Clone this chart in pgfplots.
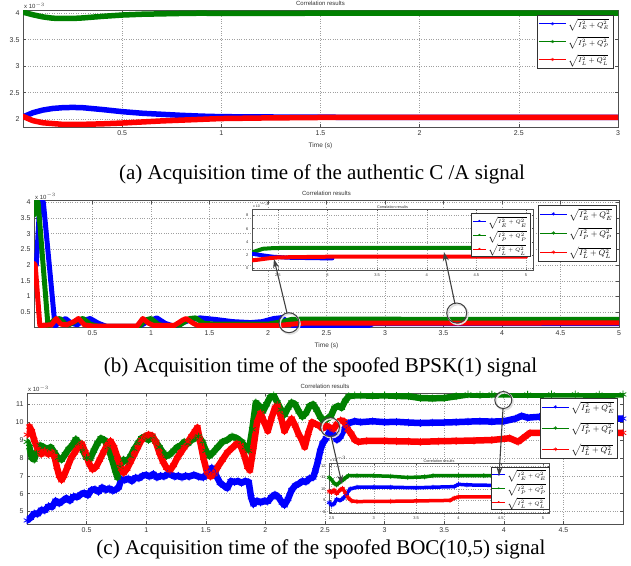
\documentclass[border=0pt]{standalone}
\usepackage{pgfplots}
\pgfplotsset{compat=1.18}
\usepackage{fontspec}
\setmainfont{Liberation Serif}
\setsansfont{Liberation Sans}
\usetikzlibrary{arrows.meta}

\definecolor{mblue}{RGB}{0,0,255}
\definecolor{mgreen}{RGB}{0,128,0}
\definecolor{mred}{RGB}{255,0,0}
\definecolor{frame}{RGB}{80,80,80}

\pgfplotsset{
  mlab/.style={
    scale only axis,
    axis line style={frame, line width=0.5pt},
    grid=major,
    major grid style={dotted, gray!75, line width=0.5pt},
    tick align=inside,
    major tick length=3pt,
    every tick/.style={frame, line width=0.45pt},
    tick label style={font=\sffamily\fontsize{7}{8}\selectfont, text=black!80},
    /pgf/number format/assume math mode=true,
    title style={font=\sffamily\fontsize{6}{7}\selectfont, text=black!80, inner sep=1.5pt, yshift=-3pt},
    label style={font=\sffamily\fontsize{6.5}{7}\selectfont, text=black!80},
    legend cell align=left,
    legend image code/.code={
      \draw[##1] (0pt,0pt) -- (27pt,0pt);
      \draw[##1] plot coordinates {(13.5pt,0pt)};
    },
  },
  inset/.style={
    mlab,
    axis background/.style={fill=white},
    major tick length=1.5pt,
    tick label style={font=\sffamily\fontsize{4}{4.5}\selectfont, text=black!80},
    title style={font=\sffamily\fontsize{3.8}{4}\selectfont, inner sep=1pt, yshift=-4pt},
    legend image code/.code={
      \draw[##1] (0pt,0pt) -- (13pt,0pt);
      \draw[##1] plot coordinates {(6.5pt,0pt)};
    },
  },
  band/.style={line width=#1, line join=round, line cap=round, forget plot},
  noisy/.style={line width=#1, line join=round, line cap=round, forget plot,
    mark=asterisk, mark size=3.6pt, mark options={solid, line width=0.8pt}},
  legE/.style={mblue, line width=0.5pt, mark=asterisk, mark size=#1},
  legP/.style={mgreen, line width=0.5pt, mark=asterisk, mark size=#1},
  legL/.style={mred, line width=0.5pt, mark=asterisk, mark size=#1},
}
\tikzset{expo/.style={anchor=south west, inner sep=1pt, text=black!80,
  font=\sffamily\fontsize{#1}{#1}\selectfont}}

\begin{document}
\begin{tikzpicture}
\path[use as bounding box] (0pt,0pt) rectangle (631pt,-565pt);

% ---------------- (a) ----------------
\begin{axis}[mlab, name=pa,
  at={(23pt,-127pt)}, anchor=south west,
  width=595pt, height=117pt,
  xmin=0, xmax=3, ymin=1.85, ymax=4.06,
  xtick={0.5,1,...,3}, ytick={2,2.5,...,4},
  title={Correlation results}, xlabel={Time (s)},
  legend style={at={(rel axis cs:0.9916,0.957)}, anchor=north east,
    draw=black!80, line width=0.5pt, inner sep=1.5pt, row sep=4pt,
    font=\fontsize{7.5}{8}\selectfont},
]
\addplot[band=5.5pt, mblue] coordinates {
(0,2.04) (0.05,2.12) (0.1,2.17) (0.15,2.2) (0.2,2.215) (0.25,2.22) (0.3,2.215)
(0.4,2.18) (0.5,2.14) (0.6,2.11) (0.7,2.09) (0.8,2.07) (0.9,2.055) (1.0,2.045)
(1.2,2.04) (1.5,2.035) (2,2.03) (3,2.03)};
\addplot[band=5.5pt, mgreen] coordinates {
(0,4.02) (0.05,3.97) (0.1,3.93) (0.15,3.905) (0.2,3.9) (0.25,3.9) (0.3,3.91)
(0.4,3.94) (0.5,3.965) (0.6,3.98) (0.8,3.995) (0.9,4.0) (1.0,3.995) (1.2,3.995)
(1.5,4.0) (3,4.0)};
\addplot[band=5.5pt, mred] coordinates {
(0,2.05) (0.05,1.97) (0.1,1.93) (0.2,1.9) (0.3,1.9) (0.4,1.91) (0.5,1.925)
(0.6,1.945) (0.7,1.965) (0.8,1.98) (0.9,1.995) (1,2.01) (1.2,2.02) (1.5,2.03) (3,2.03)};
\addlegendimage{legE=1.6pt}
\addlegendimage{legP=1.6pt}
\addlegendimage{legL=1.6pt}
\legend{$\sqrt{I_E^2+Q_E^2}$, $\sqrt{I_P^2+Q_P^2}$, $\sqrt{I_L^2+Q_L^2}$}
\end{axis}
\node[expo=6] at (pa.north west) {x 10$^{-3}$};

% ---------------- (b) ----------------
\begin{axis}[mlab, name=pb,
  at={(34pt,-327pt)}, anchor=south west,
  width=585pt, height=126.3pt,
  xmin=0, xmax=5, ymin=0.03, ymax=4.05,
  xtick={0.5,1,...,5}, ytick={0.5,1,...,4},
  title={Correlation results}, xlabel={Time (s)},
  legend style={at={(rel axis cs:0.9949,0.966)}, anchor=north east,
    draw=black!80, line width=0.5pt, inner sep=1.5pt, row sep=5pt,
    font=\fontsize{8.5}{9}\selectfont},
]
\addplot[band=5pt, mblue] coordinates {
(0,2.0) (0.02,2.0) (0.05,4.0) (0.08,4.0) (0.18,0.05) (0.22,0.2) (0.27,0.3)
(0.32,0.15) (0.37,0.1) (0.43,0.25) (0.48,0.3) (0.55,0.15) (0.62,0.05) (0.9,0.05)
(0.97,0.2) (1.05,0.32) (1.12,0.15) (1.2,0.05) (1.33,0.25) (1.42,0.32) (1.55,0.27)
(1.7,0.2) (1.85,0.17) (1.95,0.2) (2.05,0.3) (2.12,0.33) (2.18,0.15) (2.22,0.06)
(2.85,0.06) (2.9,0.14) (5,0.14)};
\addplot[band=5pt, mgreen] coordinates {
(0,3.6) (0.015,4.0) (0.035,4.0) (0.12,0.05) (0.17,0.25) (0.22,0.3) (0.27,0.12)
(0.3,0.1) (0.37,0.25) (0.42,0.3) (0.48,0.12) (0.55,0.05) (0.9,0.05) (0.95,0.25)
(1.0,0.3) (1.06,0.12) (1.12,0.05) (1.25,0.1) (1.33,0.3) (1.38,0.32) (1.45,0.15)
(1.55,0.12) (2.0,0.12) (2.12,0.2) (2.2,0.27) (2.3,0.28) (5,0.27)};
\addplot[band=5pt, mred] coordinates {
(0,2.05) (0.01,2.0) (0.05,0.08) (0.15,0.1) (0.19,0.3) (0.23,0.12) (0.28,0.1)
(0.34,0.2) (0.38,0.3) (0.43,0.1) (0.5,0.06) (0.88,0.06) (0.93,0.3) (0.98,0.15)
(1.02,0.08) (1.2,0.08) (1.27,0.25) (1.3,0.3) (1.36,0.15) (1.4,0.08) (2.1,0.08)
(2.2,0.12) (2.3,0.15) (5,0.16)};
\addlegendimage{legE=1.8pt}
\addlegendimage{legP=1.8pt}
\addlegendimage{legL=1.8pt}
\legend{$\sqrt{I_E^2+Q_E^2}$, $\sqrt{I_P^2+Q_P^2}$, $\sqrt{I_L^2+Q_L^2}$}
\end{axis}
\node[expo=6] at (pb.north west) {x 10$^{-3}$};

% inset of (b)
\begin{axis}[inset, name=pbi,
  at={(252pt,-270pt)}, anchor=south west,
  width=281pt, height=61pt,
  xmin=2.24, xmax=5.07, ymin=-0.26, ymax=8.97,
  xtick={2.5,3,...,5}, ytick={0,2,...,8},
  title={Correlation results},
  legend style={at={(rel axis cs:0.989,0.934)}, anchor=north east,
    draw=black!80, line width=0.4pt, inner sep=1pt, row sep=0.8pt,
    font=\fontsize{4.5}{5}\selectfont},
]
\addplot[band=4pt, mgreen] coordinates {
(2.24,2.4) (2.3,2.7) (2.35,2.95) (2.45,3.05) (2.6,3.1) (3,3.1) (3.5,3.08) (4,3.08) (4.5,3.08) (5,3.08)};
\addplot[band=4pt, mblue] coordinates {
(2.24,2.2) (2.35,1.95) (2.45,1.75) (2.6,1.6) (3.0,1.5) (3.05,1.5)};
\addplot[band=4pt, mred] coordinates {
(2.24,1.2) (2.3,1.3) (2.4,1.5) (2.5,1.65) (3,1.75) (4,1.75) (5,1.75)};
\addlegendimage{legE=1pt}
\addlegendimage{legP=1pt}
\addlegendimage{legL=1pt}
\legend{$\sqrt{I_E^2+Q_E^2}$, $\sqrt{I_P^2+Q_P^2}$, $\sqrt{I_L^2+Q_L^2}$}
\end{axis}
\node[expo=3.5] at (pbi.north west) {x 10$^{-3}$};

% ---------------- (c) ----------------
\begin{axis}[mlab, name=pc,
  at={(27pt,-524pt)}, anchor=south west,
  width=596pt, height=131pt,
  xmin=0, xmax=5, ymin=4.3, ymax=11.63,
  xtick={0.5,1,...,4.5}, ytick={5,6,...,11},
  title={Correlation results},
  legend style={at={(rel axis cs:0.9916,0.962)}, anchor=north east,
    draw=black!80, line width=0.5pt, inner sep=1.5pt, row sep=7pt,
    font=\fontsize{8.5}{9}\selectfont},
]
\addplot[noisy=6.5pt, mblue] coordinates {
(0.00,4.5) (0.03,4.65) (0.06,4.9) (0.09,4.85) (0.12,5.1) (0.15,5.05) (0.18,5.3)
(0.21,5.25) (0.24,5.6) (0.27,5.45) (0.30,5.6) (0.33,5.75) (0.36,5.6) (0.39,5.85)
(0.42,5.8) (0.45,5.95) (0.48,6.05) (0.51,5.9) (0.54,6.2) (0.57,6.25) (0.60,6.1)
(0.63,6.35) (0.66,6.2) (0.69,6.3) (0.72,6.15) (0.75,6.25) (0.77,6.35) (0.79,6.8)
(0.82,6.75) (0.85,6.85) (0.88,6.7) (0.91,6.9) (0.94,6.85) (0.97,7.0) (1.00,7.05)
(1.03,6.95) (1.06,7.1) (1.09,6.9) (1.12,7.0) (1.15,6.95) (1.18,7.1) (1.21,7.05)
(1.24,6.95) (1.27,7.0) (1.30,6.9) (1.33,7.0) (1.36,6.95) (1.40,7.05) (1.44,6.95)
(1.48,6.9) (1.52,7.2) (1.55,7.45) (1.58,7.1) (1.62,6.6) (1.65,6.45) (1.68,6.3)
(1.71,6.7) (1.74,6.65) (1.77,6.7) (1.80,6.6) (1.83,6.7) (1.86,6.65) (1.88,5.8)
(1.90,5.4) (1.93,5.6) (1.96,5.5) (1.99,5.6) (2.02,5.55) (2.05,5.8) (2.08,5.95)
(2.11,5.8) (2.14,5.5) (2.16,5.35) (2.19,5.7) (2.22,6.2) (2.25,6.45) (2.28,6.55)
(2.31,6.7) (2.34,6.65) (2.37,6.85) (2.40,6.9) (2.42,7.3) (2.44,7.8) (2.46,8.4)
(2.48,8.8) (2.51,9.1) (2.54,9.5) (2.57,9.3) (2.60,9.0) (2.63,9.2) (2.66,9.6)
(2.70,9.95) (2.75,10.05) (2.80,10.0) (2.9,10.05) (3.0,10.0) (3.1,10.02) (3.2,9.98)
(3.3,9.95) (3.4,9.97) (3.5,9.98) (3.6,10.0) (3.7,10.03) (3.8,10.05) (3.9,10.03)
(4.0,10.05) (4.1,10.2) (4.15,10.35) (4.2,10.25) (4.3,10.3) (4.4,10.28) (4.5,10.25)
(4.6,10.25) (4.7,10.22) (4.8,10.22) (4.9,10.2) (5,10.2)};
\addplot[noisy=6.5pt, mgreen] coordinates {
(0.00,8.9) (0.02,8.6) (0.04,8.0) (0.06,7.9) (0.08,8.3) (0.11,8.7) (0.14,8.6)
(0.17,8.5) (0.2,8.6) (0.23,8.3) (0.26,8.0) (0.29,7.9) (0.32,8.2) (0.35,8.5)
(0.38,8.7) (0.41,9.05) (0.44,8.8) (0.47,8.4) (0.5,8.0) (0.53,7.95) (0.56,8.4)
(0.59,8.8) (0.62,9.1) (0.65,9.0) (0.68,8.6) (0.71,8.0) (0.74,7.3) (0.76,6.9)
(0.78,7.5) (0.81,7.9) (0.84,7.8) (0.87,8.1) (0.9,8.5) (0.93,8.8) (0.96,9.1)
(0.99,9.2) (1.02,9.0) (1.05,9.2) (1.08,8.9) (1.11,8.6) (1.14,8.3) (1.17,8.1)
(1.2,8.2) (1.23,8.4) (1.26,8.6) (1.29,8.7) (1.32,8.9) (1.35,8.8) (1.38,9.0)
(1.41,9.1) (1.44,9.2) (1.47,8.9) (1.5,8.4) (1.53,8.1) (1.56,8.3) (1.6,8.6)
(1.64,8.9) (1.68,9.0) (1.72,9.2) (1.76,9.1) (1.8,8.9) (1.83,8.6) (1.86,8.4)
(1.89,9.6) (1.92,11.1) (1.95,10.9) (1.98,10.6) (2.01,11.0) (2.04,11.4) (2.07,11.5)
(2.1,11.1) (2.13,10.7) (2.16,10.4) (2.19,10.8) (2.22,11.1) (2.25,11.0) (2.28,10.6)
(2.31,10.3) (2.34,10.5) (2.37,10.9) (2.4,11.0) (2.43,10.7) (2.46,10.3) (2.49,10.05)
(2.52,10.2) (2.55,10.35) (2.58,10.8) (2.61,10.9) (2.64,10.8) (2.67,11.2) (2.7,11.45)
(2.75,11.5) (2.8,11.5) (2.9,11.48) (3.0,11.5) (3.1,11.47) (3.2,11.45) (3.3,11.35)
(3.4,11.33) (3.5,11.35) (3.6,11.45) (3.7,11.55) (3.8,11.53) (3.9,11.55) (4.0,11.55)
(4.2,11.54) (4.4,11.55) (4.6,11.55) (4.8,11.54) (5,11.55)};
\addplot[noisy=6.5pt, mred] coordinates {
(0.00,9.3) (0.02,9.75) (0.04,9.5) (0.06,9.0) (0.09,8.5) (0.12,8.2) (0.15,8.4)
(0.18,8.2) (0.21,8.3) (0.23,8.1) (0.25,7.5) (0.27,7.0) (0.29,6.75) (0.31,7.0)
(0.34,7.5) (0.37,8.0) (0.40,8.3) (0.43,8.6) (0.46,8.8) (0.49,8.3) (0.52,7.7)
(0.55,7.35) (0.58,7.5) (0.61,7.9) (0.64,8.3) (0.67,8.7) (0.70,8.95) (0.73,8.6)
(0.76,8.0) (0.79,7.4) (0.81,7.15) (0.84,7.4) (0.87,7.8) (0.90,8.2) (0.93,8.6)
(0.96,9.0) (0.99,9.2) (1.02,9.3) (1.05,9.25) (1.08,8.9) (1.11,8.3) (1.14,7.8)
(1.17,7.45) (1.2,7.3) (1.23,7.6) (1.26,8.0) (1.29,8.3) (1.32,8.6) (1.35,8.9)
(1.38,9.2) (1.41,9.5) (1.43,9.7) (1.45,9.0) (1.48,8.0) (1.51,7.2) (1.54,6.95)
(1.57,7.1) (1.6,7.5) (1.64,7.9) (1.68,8.3) (1.72,8.55) (1.76,8.8) (1.79,8.7)
(1.82,8.2) (1.85,7.5) (1.87,7.3) (1.9,8.6) (1.93,10.0) (1.96,10.5) (1.99,10.0)
(2.02,9.5) (2.05,10.2) (2.08,10.8) (2.1,10.95) (2.13,10.3) (2.16,9.5) (2.19,9.9)
(2.22,10.2) (2.25,9.8) (2.28,9.3) (2.3,9.1) (2.33,8.6) (2.36,9.4) (2.39,10.0)
(2.42,9.9) (2.45,9.8) (2.48,9.65) (2.51,9.8) (2.54,9.7) (2.57,9.6) (2.6,9.9)
(2.63,10.1) (2.66,10.05) (2.69,9.6) (2.72,9.35) (2.75,9.0) (2.78,8.9) (2.85,8.95)
(3.0,8.95) (3.1,8.93) (3.2,8.92) (3.3,8.9) (3.45,8.93) (3.6,8.95) (3.75,8.97)
(3.9,9.0) (4.05,9.1) (4.12,8.9) (4.18,9.2) (4.22,9.4) (4.35,9.4) (4.5,9.4)
(4.7,9.42) (5,9.4)};
\addlegendimage{legE=1.8pt}
\addlegendimage{legP=1.8pt}
\addlegendimage{legL=1.8pt}
\legend{$\sqrt{I_E^2+Q_E^2}$, $\sqrt{I_P^2+Q_P^2}$, $\sqrt{I_L^2+Q_L^2}$}
\end{axis}
\node[expo=6] at (pc.north west) {x 10$^{-3}$};

% inset of (c)
\begin{axis}[inset, name=pci,
  at={(329pt,-513pt)}, anchor=south west,
  width=220pt, height=50pt,
  xmin=2.47, xmax=5.07, ymin=7.9, ymax=12.26,
  xtick={2.5,3,...,5}, ytick={8,9,...,12},
  title={Correlation results},
  legend style={at={(rel axis cs:1,0.92)}, anchor=north east,
    draw=black!80, line width=0.4pt, inner sep=0.8pt, row sep=0.5pt,
    font=\fontsize{4}{4.5}\selectfont},
]
\addplot[noisy=3.5pt, mark size=2.2pt, mgreen] coordinates {
(2.47,11.0) (2.5,10.8) (2.53,10.5) (2.56,10.35) (2.6,10.6) (2.64,10.8) (2.67,11.0)
(2.7,11.15) (2.8,11.15) (3.0,11.15) (3.2,11.1) (3.4,11.0) (3.6,11.05) (3.7,11.15)
(4.0,11.15) (4.3,11.15) (4.6,11.2) (5,11.2)};
\addplot[noisy=3.5pt, mark size=2.2pt, mblue] coordinates {
(2.47,8.8) (2.5,8.6) (2.53,8.7) (2.56,9.1) (2.6,9.0) (2.64,9.2) (2.68,9.6)
(2.72,10.0) (2.8,10.15) (3.0,10.15) (3.2,10.15) (3.5,10.1) (3.7,10.15) (3.95,10.2)
(4.0,10.4) (4.1,10.35) (4.5,10.3) (5,10.3)};
\addplot[noisy=3.5pt, mark size=2.2pt, mred] coordinates {
(2.47,9.8) (2.5,9.7) (2.53,9.9) (2.56,9.6) (2.6,9.9) (2.63,10.05) (2.66,9.7)
(2.7,9.2) (2.74,8.95) (2.8,8.9) (3.2,8.92) (3.5,8.95) (3.9,9.0) (3.95,9.2)
(4.0,9.3) (4.5,9.3) (5,9.3)};
\addlegendimage{legE=0.9pt}
\addlegendimage{legP=0.9pt}
\addlegendimage{legL=0.9pt}
\legend{$\sqrt{I_E^2+Q_E^2}$, $\sqrt{I_P^2+Q_P^2}$, $\sqrt{I_L^2+Q_L^2}$}
\end{axis}
\node[expo=3.5] at (pci.north west) {x 10$^{-3}$};

% annotation circles and arrows
\tikzset{ring/.style={draw=black!75, line width=1pt},
  halo/.style={draw=black!12, line width=1.6pt},
  arr/.style={draw=black!75, line width=1.1pt, -{Stealth[length=9pt,width=6pt]}}}
\draw[halo] (290pt,-324pt) circle (10pt);
\draw[ring] (289pt,-322.7pt) circle (10pt);
\draw[halo] (458pt,-314.5pt) circle (10pt);
\draw[ring] (456.7pt,-313pt) circle (10pt);
\draw[arr] (287pt,-313pt) -- (274pt,-259pt);
\draw[arr] (455pt,-304pt) -- (444pt,-252pt);
\draw[halo] (331.3pt,-428.3pt) circle (9.5pt);
\draw[ring] (330pt,-427pt) circle (9.5pt);
\draw[halo] (504.5pt,-401.3pt) circle (8.5pt);
\draw[ring] (503.3pt,-400pt) circle (8.5pt);
\draw[arr] (331pt,-436pt) -- (342pt,-484pt);
\draw[arr] (503pt,-408.5pt) -- (499pt,-476pt);

% captions
\node[anchor=base, font=\fontsize{21}{24}\selectfont] at (322pt,-179pt)
  {(a) Acquisition time of the authentic C /A signal};
\node[anchor=base, font=\fontsize{21}{24}\selectfont] at (320.5pt,-372pt)
  {(b) Acquisition time of the spoofed BPSK(1) signal};
\node[anchor=base, font=\fontsize{21}{24}\selectfont] at (321pt,-554pt)
  {(c) Acquisition time of the spoofed BOC(10,5) signal};
\end{tikzpicture}
\end{document}
